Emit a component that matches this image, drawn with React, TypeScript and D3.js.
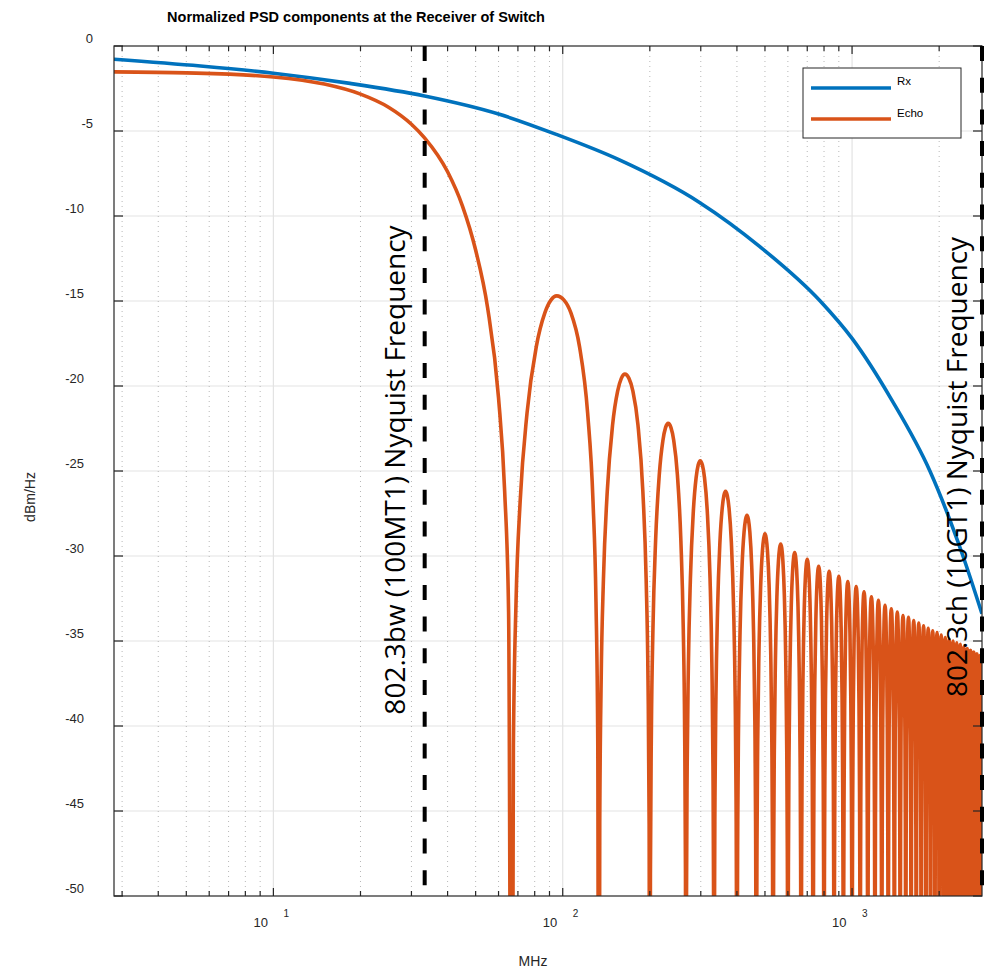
import React from 'react';
import * as d3 from 'd3';

const W = 992;
const H = 969;
const plot = { left: 114, right: 982, top: 46, bottom: 896 };

// axes
const freqDomain = [2.8125, 2812.5];
const dbDomain = [-50, 0];
const decadeTicks = [10, 100, 1000];
const decadeExponents = ['1', '2', '3'];
const dbTicks = [0, -5, -10, -15, -20, -25, -30, -35, -40, -45, -50];

// Rx curve
const rxFreq = [2.8125, 5.6, 10, 18.4, 33.3, 60, 95, 157, 297, 480, 776, 1000, 1369, 1858, 2417, 2812.5];
const rxDb = [-0.78, -1.18, -1.6, -2.2, -2.94, -4.0, -5.2, -6.7, -9.2, -11.8, -15.0, -17.2, -20.8, -25, -30, -33.4];

// Echo main lobe (first null at 66.7 MHz)
const echoMainFreq = [2.8125, 5, 10, 15, 20, 25, 30, 33.3, 40, 45, 50, 55, 60, 63, 65];
const echoMainDb = [-1.52, -1.58, -1.82, -2.24, -2.83, -3.6, -4.6, -5.4, -7.4, -9.4, -12, -15.4, -20.7, -26.2, -33.3];

// Echo sidelobes: nulls every 66.7 MHz, peak level of each lobe
const echoNullSpacing = 66.667;
const echoPeakDb = [
  -14.7, -19.3, -22.2, -24.4, -26.2, -27.6, -28.7, -29.3, -29.8, -30.2,
  -30.6, -30.9, -31.2, -31.5, -31.8, -32.1, -32.4, -32.6, -32.9, -33.1,
  -33.3, -33.5, -33.6, -33.8, -33.95, -34.1, -34.25, -34.4, -34.5, -34.65,
  -34.8, -34.9, -35.0, -35.1, -35.2, -35.35, -35.45, -35.55, -35.65, -35.75,
  -35.85, -35.95,
];
// where the peak sits inside the first lobes (fraction of the lobe), others centred
const echoPeakPos = [0.43, 0.46, 0.47, 0.48, 0.48];
// side of a lobe from its null (0) to its peak (1), dB below the peak
const lobeSideU = [0, 0.03, 0.08, 0.16, 0.3, 0.5, 0.7, 0.85];
const lobeSideDrop = [-60, -26.5, -18, -12.1, -6.9, -3, -1, -0.25];

const nyquistFreq = [33.333, 2812.5];
const nyquistLabels = ['802.3bw (100MT1) Nyquist Frequency', '802.3ch (10GT1) Nyquist Frequency'];
const nyquistLabelPos = [
  { x: 405, y: 470 },
  { x: 967, y: 467 },
];

const colors = { rx: '#0072BD', echo: '#D95319', axis: '#262626', grid: '#e3e3e3', minor: '#b8b8b8' };
const font = '"Liberation Sans", Arial, sans-serif';

const App = () => {
  const x = d3.scaleLog().domain(freqDomain).range([plot.left, plot.right]);
  const y = d3.scaleLinear().domain(dbDomain).range([plot.bottom, plot.top]);

  // log ticks 1..9 per decade inside the domain
  const logTicks: number[] = [];
  [1, 10, 100, 1000].forEach((dec) => {
    for (let m = 1; m <= 9; m++) {
      const f = dec * m;
      if (f >= freqDomain[0] && f <= freqDomain[1]) logTicks.push(f);
    }
  });
  const minorTicks = logTicks.filter((f) => !decadeTicks.includes(f));

  const rxPts: [number, number][] = rxFreq.map((f, i) => [f, rxDb[i]]);

  const echoPts: [number, number][] = echoMainFreq.map((f, i) => [f, echoMainDb[i]]);
  echoPeakDb.forEach((peak, i) => {
    const n0 = (i + 1) * echoNullSpacing;
    const n1 = (i + 2) * echoNullSpacing;
    const fp = n0 + (echoPeakPos[i] ?? 0.5) * echoNullSpacing;
    lobeSideU.forEach((u, j) => echoPts.push([n0 + u * (fp - n0), peak + lobeSideDrop[j]]));
    echoPts.push([fp, peak]);
    for (let j = lobeSideU.length - 1; j >= 1; j--) {
      echoPts.push([n1 - lobeSideU[j] * (n1 - fp), peak + lobeSideDrop[j]]);
    }
    if (i === echoPeakDb.length - 1) echoPts.push([n1, peak - 60]);
  });

  const line = d3
    .line<[number, number]>()
    .x((d) => x(d[0]))
    .y((d) => y(d[1]))
    .curve(d3.curveMonotoneX);

  return (
    <svg width={W} height={H} style={{ position: 'absolute', left: 0, top: 0, background: '#fff' }} fontFamily={font}>
      <defs>
        <clipPath id="plotClip">
          <rect x={plot.left} y={plot.top} width={plot.right - plot.left} height={plot.bottom - plot.top} />
        </clipPath>
      </defs>
      <rect width={W} height={H} fill="#fff" />

      {/* title */}
      <text x={356} y={22} textAnchor="middle" fontWeight="bold" fontSize={14.5} fill="#000">
        Normalized PSD components at the Receiver of Switch
      </text>

      {/* grid */}
      <g>
        {dbTicks.slice(1, -1).map((v) => (
          <line key={v} x1={plot.left} x2={plot.right} y1={y(v)} y2={y(v)} stroke={colors.grid} strokeWidth={1.2} />
        ))}
        {decadeTicks.map((f) => (
          <line key={f} x1={x(f)} x2={x(f)} y1={plot.top} y2={plot.bottom} stroke={colors.grid} strokeWidth={1.2} />
        ))}
        {minorTicks.map((f) => (
          <line
            key={f}
            x1={x(f)}
            x2={x(f)}
            y1={plot.top}
            y2={plot.bottom}
            stroke={colors.minor}
            strokeWidth={1}
            strokeDasharray="1 4"
          />
        ))}
      </g>

      {/* curves */}
      <g clipPath="url(#plotClip)">
        <path d={line(rxPts) || ''} fill="none" stroke={colors.rx} strokeWidth={3.6} />
        <path d={line(echoPts) || ''} fill="none" stroke={colors.echo} strokeWidth={3.6} />
      </g>

      {/* axes box and ticks */}
      <g stroke={colors.axis} strokeWidth={1.2}>
        <rect x={plot.left} y={plot.top} width={plot.right - plot.left} height={plot.bottom - plot.top} fill="none" />
        {logTicks.map((f) => {
          const len = decadeTicks.includes(f) ? 8 : 5;
          return (
            <g key={f}>
              <line x1={x(f)} x2={x(f)} y1={plot.bottom} y2={plot.bottom - len} />
              <line x1={x(f)} x2={x(f)} y1={plot.top} y2={plot.top + len} />
            </g>
          );
        })}
        {dbTicks.map((v) => (
          <g key={v}>
            <line x1={plot.left} x2={plot.left + 9} y1={y(v)} y2={y(v)} />
            <line x1={plot.right} x2={plot.right - 9} y1={y(v)} y2={y(v)} />
          </g>
        ))}
      </g>

      {/* nyquist markers */}
      {nyquistFreq.map((f, i) => (
        <g key={f}>
          <line
            x1={Math.min(x(f), plot.right)}
            x2={Math.min(x(f), plot.right)}
            y1={plot.top}
            y2={plot.bottom}
            stroke="#000"
            strokeWidth={4}
            strokeDasharray="15 16.7"
          />
          <text
            transform={`translate(${nyquistLabelPos[i].x},${nyquistLabelPos[i].y}) rotate(-90)`}
            textAnchor="middle"
            fontFamily='"Open Sans", sans-serif'
            fontSize={28}
            fill="#000"
          >
            {nyquistLabels[i]}
          </text>
        </g>
      ))}

      {/* y tick labels */}
      {dbTicks.map((v) => {
        const label = String(v);
        return (
          <text
            key={v}
            x={label.length <= 2 ? 93 : 84}
            y={y(v) - 8}
            dy="0.35em"
            textAnchor="end"
            fontSize={13}
            fill={colors.axis}
          >
            {label}
          </text>
        );
      })}

      {/* x tick labels */}
      {decadeTicks.map((f, i) => (
        <g key={f} fill={colors.axis}>
          <text x={x(f) - 5.5} y={927} textAnchor="end" fontSize={13}>
            10
          </text>
          <text x={x(f) + 10} y={917} fontSize={10}>
            {decadeExponents[i]}
          </text>
        </g>
      ))}

      {/* axis labels */}
      <text x={533} y={966} textAnchor="middle" fontSize={14} fill={colors.axis}>
        MHz
      </text>
      <text transform="translate(35,497) rotate(-90)" textAnchor="middle" fontSize={14} fill={colors.axis}>
        dBm/Hz
      </text>

      {/* legend */}
      <g>
        <rect x={803} y={68} width={158} height={70} fill="#fff" stroke={colors.axis} strokeWidth={1} />
        <line x1={811} x2={891} y1={88} y2={88} stroke={colors.rx} strokeWidth={3.6} />
        <line x1={811} x2={891} y1={119} y2={119} stroke={colors.echo} strokeWidth={3.6} />
        <text x={897} y={85} fontSize={11.5} fill="#000">
          Rx
        </text>
        <text x={897} y={117} fontSize={11.5} fill="#000">
          Echo
        </text>
      </g>
    </svg>
  );
};

export default App;
